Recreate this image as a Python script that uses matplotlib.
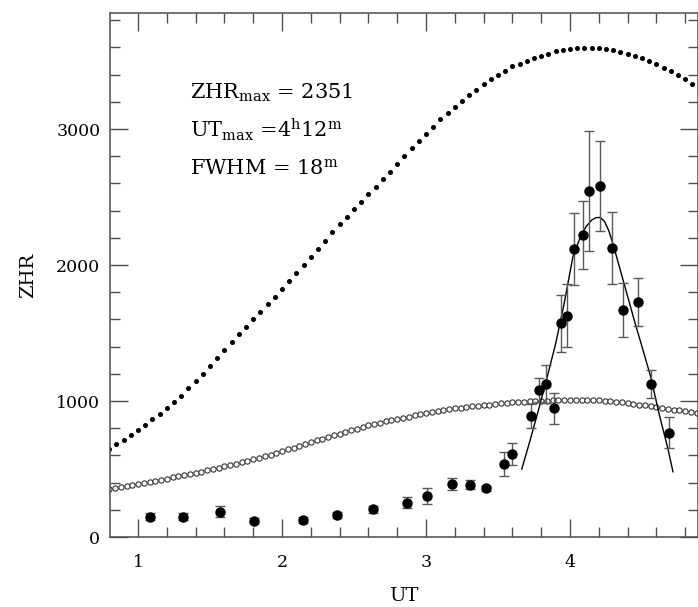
import numpy as np
import matplotlib
matplotlib.use("Agg")
import matplotlib.pyplot as plt
from matplotlib.ticker import MultipleLocator

plt.rcParams['font.family'] = ['DejaVu Serif']
plt.rcParams['mathtext.fontset'] = 'dejavuserif'

# observed ZHR with error bars
ut_obs = [1.083, 1.315, 1.57, 1.806, 2.148, 2.384, 2.63, 2.866, 3.01, 3.178,
          3.306, 3.42, 3.54, 3.60, 3.727, 3.787, 3.833, 3.889, 3.937, 3.977,
          4.03, 4.088, 4.134, 4.208, 4.292, 4.37, 4.47, 4.565, 4.69]
zhr_obs = [149, 149, 186, 120, 125, 162, 204, 252, 301, 387,
           385, 358, 537, 610, 890, 1081, 1125, 946, 1571, 1627,
           2118, 2221, 2546, 2581, 2123, 1669, 1730, 1125, 767]
zhr_err = [25, 25, 40, 20, 20, 25, 25, 40, 57, 45,
           35, 20, 85, 80, 90, 85, 140, 112, 210, 230,
           262, 250, 440, 330, 265, 200, 175, 100, 115]

# fitted profile
ut_fit = [3.665, 3.72, 3.78, 3.84, 3.90, 3.96, 4.02, 4.07, 4.11, 4.15, 4.18, 4.21,
          4.24, 4.27, 4.30, 4.35, 4.40, 4.45, 4.50, 4.56, 4.62, 4.68, 4.715]
zhr_fit = [500, 700, 930, 1170, 1420, 1720, 2060, 2200, 2280, 2330, 2348, 2350,
           2320, 2250, 2150, 1960, 1770, 1580, 1400, 1180, 900, 650, 480]

# upper model (small dots), every 3 minutes from 0.80 h
model_a = [650, 682, 715, 750, 785, 825, 865, 907, 950, 995,
           1040, 1092, 1145, 1202, 1260, 1318, 1375, 1432, 1490, 1545,
           1600, 1655, 1710, 1765, 1820, 1880, 1940, 2000, 2060, 2120,
           2180, 2240, 2300, 2355, 2410, 2465, 2520, 2575, 2630, 2685,
           2740, 2800, 2860, 2910, 2960, 3015, 3070, 3118, 3165, 3208,
           3250, 3290, 3330, 3365, 3400, 3430, 3460, 3480, 3500, 3520,
           3540, 3555, 3570, 3580, 3588, 3592, 3594, 3594, 3592, 3586,
           3578, 3567, 3555, 3538, 3520, 3500, 3478, 3452, 3425, 3395,
           3365, 3333, 3300]

# lower model (open circles), every 0.04 h from 0.80 h
model_b = [355, 362, 369, 376, 383, 390, 398, 406, 414, 422,
           430, 438, 446, 455, 463, 472, 481, 491, 500, 510,
           520, 530, 540, 550, 560, 570, 582, 594, 606, 618,
           630, 644, 658, 672, 686, 700, 712, 724, 736, 748,
           760, 772, 784, 796, 808, 820, 830, 840, 850, 860,
           870, 878, 886, 894, 902, 910, 917, 924, 931, 938,
           945, 950, 955, 960, 965, 970, 974, 978, 982, 986,
           990, 992, 995, 997, 1000, 1002, 1003, 1005, 1006, 1007,
           1008, 1008, 1008, 1007, 1006, 1005, 1001, 997, 993, 989,
           985, 979, 973, 967, 961, 955, 949, 943, 937, 931,
           925, 920, 915]

ut_a = np.linspace(0.80, 4.90, len(model_a))
ut_b = np.linspace(0.80, 4.88, len(model_b))

fig = plt.figure(figsize=(6.98, 6.07), dpi=100)
ax = fig.add_axes([110/698, 70/607, 588/698, 524/607])

ax.plot(ut_a, model_a, ls='none', marker='o', ms=2.6, color='black')
ax.plot(ut_b, model_b, ls='none', marker='o', ms=3.8, mfc='white', mec='0.2', mew=0.8)
ax.plot(ut_fit, zhr_fit, color='black', lw=1.0)
ax.errorbar(ut_obs, zhr_obs, yerr=zhr_err, fmt='o', ms=6.5, color='black',
            ecolor='0.35', elinewidth=1.0, capsize=3.5, capthick=1.0)

ax.set_xlim(0.805, 4.889)
ax.set_ylim(0, 3853)
ax.xaxis.set_major_locator(MultipleLocator(1))
ax.xaxis.set_minor_locator(MultipleLocator(0.2))
ax.yaxis.set_major_locator(MultipleLocator(1000))
ax.yaxis.set_minor_locator(MultipleLocator(200))
ax.tick_params(which='both', direction='in', top=True, right=True, color='0.3', width=1.0)
ax.tick_params(which='major', length=13, labelsize=12.5)
ax.tick_params(axis='x', which='major', pad=12)
ax.tick_params(axis='y', which='major', pad=7)
ax.tick_params(which='minor', length=7)
for s in ax.spines.values():
    s.set_color('0.3')
    s.set_linewidth(1.1)

ax.set_xlabel('UT', fontsize=14, labelpad=12)
ax.set_ylabel('ZHR', fontsize=14, labelpad=14)

lines = [r'ZHR$_{\rm max}$ = 2351',
         r'UT$_{\rm max}$ =4$^{\rm h}$12$^{\rm m}$',
         r'FWHM = 18$^{\rm m}$']
for i, t in enumerate(lines):
    fig.text(190/698, 1 - (99 + 38*i)/607, t, fontsize=15, va='baseline', ha='left')

fig.savefig('out.png', dpi=100)
